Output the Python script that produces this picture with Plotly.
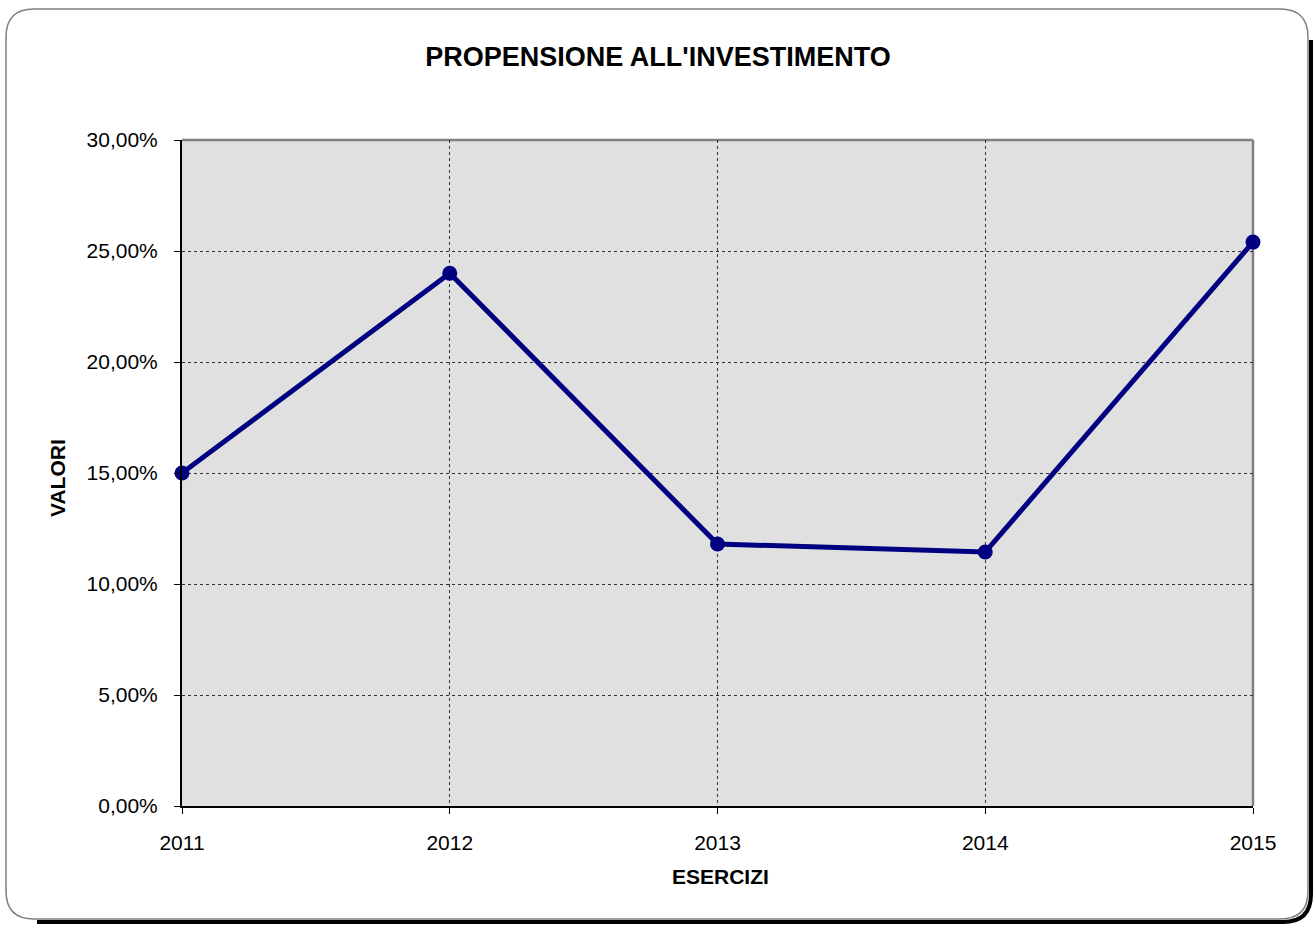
import plotly.graph_objects as go

years = [2011, 2012, 2013, 2014, 2015]
values = [0.150, 0.240, 0.118, 0.1144, 0.254]
y_ticks = [0.0, 0.05, 0.10, 0.15, 0.20, 0.25, 0.30]

W, H = 1316, 926
L, R, T, B = 182, 1253, 140, 806
FONT = "Liberation Sans, Arial, Helvetica, sans-serif"


def px_x(px):
    return (px - L) / (R - L)


def px_y(py):
    return (B - py) / (B - T)


def make_path(pts, close=False):
    out = []
    for p in pts:
        cmd = p[0]
        coords = p[1:]
        s = []
        for i in range(0, len(coords), 2):
            s.append(f"{px_x(coords[i]):.5f},{px_y(coords[i+1]):.5f}")
        out.append(cmd + " ".join(s))
    return " ".join(out) + (" Z" if close else "")


def rounded_path(x0, y0, x1, y1, r):
    pts = [
        ("M", x0 + r, y0), ("L", x1 - r, y0), ("Q", x1, y0, x1, y0 + r),
        ("L", x1, y1 - r), ("Q", x1, y1, x1 - r, y1), ("L", x0 + r, y1),
        ("Q", x0, y1, x0, y1 - r), ("L", x0, y0 + r), ("Q", x0, y0, x0 + r, y0),
    ]
    return make_path(pts, close=True)


def shadow_path(x0, y0, x1, y1, r, off):
    xs1, ys1 = x1 + off, y1 + off
    pts = [
        ("M", xs1, y0 + r + off), ("L", xs1, ys1 - r), ("Q", xs1, ys1, xs1 - r, ys1),
        ("L", x0 + r + off, ys1),
    ]
    return make_path(pts)


fig = go.Figure()
fig.add_trace(go.Scatter(
    x=years, y=values, mode="lines+markers",
    line=dict(color="#000080", width=5),
    marker=dict(color="#000080", size=15),
    cliponaxis=False, hoverinfo="skip", showlegend=False,
))

shapes = [
    dict(type="path", xref="paper", yref="paper", layer="above",
         path=shadow_path(6, 9, 1308, 919, 28, 3),
         line=dict(color="black", width=4), fillcolor="rgba(0,0,0,0)"),
    dict(type="path", xref="paper", yref="paper", layer="above",
         path=rounded_path(6, 9, 1308, 919, 28),
         line=dict(color="#808080", width=1.5), fillcolor="rgba(0,0,0,0)"),
    dict(type="line", xref="paper", yref="paper", x0=0, x1=1, y0=1, y1=1,
         line=dict(color="#808080", width=2.5), layer="below"),
    dict(type="line", xref="paper", yref="paper", x0=1, x1=1, y0=0, y1=1,
         line=dict(color="#808080", width=2.5), layer="below"),
]

fig.update_layout(
    width=W, height=H,
    margin=dict(l=L, r=W - R, t=T, b=H - B, pad=0),
    paper_bgcolor="white",
    plot_bgcolor="#E0E0E0",
    separators=",.",
    font=dict(family=FONT, size=21, color="black"),
    title=dict(text="<b>PROPENSIONE ALL'INVESTIMENTO</b>", x=0.5, xref="container",
               xanchor="center", y=1 - 57 / H, yref="container", yanchor="middle",
               font=dict(family=FONT, size=27, color="black")),
    xaxis=dict(
        range=[2011, 2015], tickvals=years, ticktext=[str(y) for y in years],
        showgrid=True, gridcolor="#333333", griddash="dot", gridwidth=1,
        showline=True, linecolor="black", linewidth=2,
        ticks="outside", ticklen=6, tickcolor="black", tickwidth=1,
        ticklabelstandoff=11, zeroline=False,
        tickfont=dict(family=FONT, size=21, color="black"),
    ),
    yaxis=dict(
        range=[0, 0.30], tickvals=y_ticks, tickformat=".2%",
        showgrid=True, gridcolor="#333333", griddash="dot", gridwidth=1,
        showline=True, linecolor="black", linewidth=2,
        ticks="outside", ticklen=6, tickcolor="black", tickwidth=1,
        ticklabelstandoff=12, zeroline=False,
        tickfont=dict(family=FONT, size=21, color="black"),
    ),
    shapes=shapes,
    annotations=[
        dict(text="<b>ESERCIZI</b>", xref="paper", yref="paper", x=px_x(720), y=px_y(876),
             xanchor="center", yanchor="middle", showarrow=False,
             font=dict(family=FONT, size=21, color="black")),
        dict(text="<b>VALORI</b>", xref="paper", yref="paper", x=px_x(57), y=px_y(478),
             xanchor="center", yanchor="middle", showarrow=False, textangle=-90,
             font=dict(family=FONT, size=21, color="black")),
    ],
)

fig.write_html(
    "out.html",
    config={"displayModeBar": False},
    post_script="document.body.style.margin='0';document.body.style.overflow='hidden';",
)
